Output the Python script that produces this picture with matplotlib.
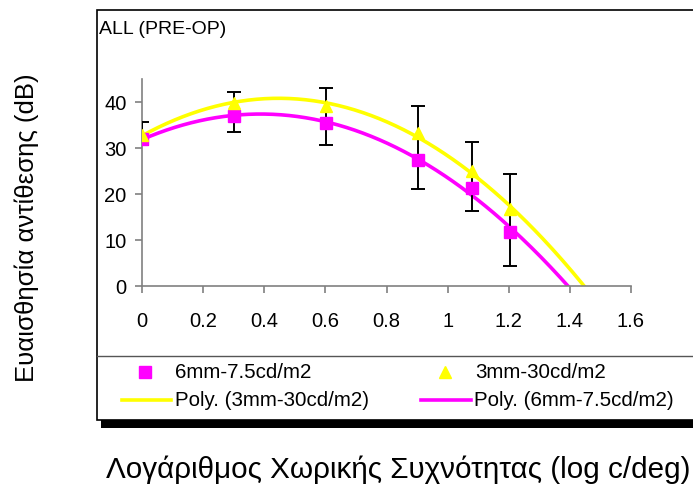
import numpy as np
import matplotlib
matplotlib.use("Agg")
import matplotlib.pyplot as plt
from matplotlib.patches import Rectangle
from matplotlib.lines import Line2D

plt.rcParams['font.family'] = ['Liberation Sans', 'DejaVu Sans']

# data
log_freq = [0.0, 0.301, 0.602, 0.903, 1.079, 1.204]
sens_6mm = [32.0, 36.9, 35.5, 27.3, 21.2, 11.8]
sens_3mm = [32.9, 39.7, 39.1, 33.3, 24.9, 16.7]
err_low = [30.6, 33.5, 30.6, 21.1, 16.4, 4.4]
err_high = [35.6, 42.2, 43.0, 39.2, 31.4, 24.4]
x_ticks = [0, 0.2, 0.4, 0.6, 0.8, 1, 1.2, 1.4, 1.6]
x_tick_labels = ['0', '0.2', '0.4', '0.6', '0.8', '1', '1.2', '1.4', '1.6']
y_ticks = [0, 10, 20, 30, 40]

MAGENTA = '#FF00FF'
YELLOW = '#FFFF00'

W, H = 693, 486
fig = plt.figure(figsize=(W / 100, H / 100), dpi=100)


def fx(px):
    return px / W


def fy(py):
    return 1 - py / H


# chart frame with shadow (behind the axes)
fig.add_artist(Rectangle((fx(101), fy(428)), fx(700) - fx(101), fy(420) - fy(428),
                         transform=fig.transFigure, facecolor='black', edgecolor='none', zorder=-3))
fig.add_artist(Rectangle((fx(97), fy(420)), fx(720) - fx(97), fy(10) - fy(420),
                         transform=fig.transFigure, facecolor='white', edgecolor='black',
                         lw=1.2, zorder=-2))
fig.add_artist(Line2D([fx(97), fx(700)], [fy(355.5), fy(355.5)], transform=fig.transFigure,
                      color='#555555', lw=1, zorder=-1))

ax = fig.add_axes([fx(142), fy(286), fx(631) - fx(142), fy(79) - fy(286)])
ax.set_facecolor('none')
ax.set_zorder(2)

# polynomial trendlines (Excel default order 2)
xx = np.linspace(0, 1.6, 300)
p3 = np.polyfit(log_freq, sens_3mm, 2)
p6 = np.polyfit(log_freq, sens_6mm, 2)
ax.plot(xx, np.polyval(p3, xx), color=YELLOW, lw=2.6, zorder=2)
ax.plot(xx, np.polyval(p6, xx), color=MAGENTA, lw=2.6, zorder=2)

mag = np.array(sens_6mm)
ax.errorbar(log_freq, mag, yerr=[mag - np.array(err_low), np.array(err_high) - mag],
            fmt='none', ecolor='black', elinewidth=1.4, capsize=5, capthick=1.4, zorder=3)
ax.plot(log_freq, sens_6mm, 's', color=MAGENTA, ms=8, ls='none', zorder=4)
ax.plot(log_freq, sens_3mm, '^', color=YELLOW, ms=9, ls='none', zorder=4)

ax.set_xlim(0, 1.6)
ax.set_ylim(0, 45)
ax.set_xticks(x_ticks)
ax.set_xticklabels(x_tick_labels)
ax.set_yticks(y_ticks)
for s in ['top', 'right']:
    ax.spines[s].set_visible(False)
for s in ['left', 'bottom']:
    ax.spines[s].set_color('#808080')
    ax.spines[s].set_linewidth(1.2)
ax.tick_params(direction='out', length=5, color='#808080', width=1.2, labelsize=14.5)
ax.tick_params(axis='y', pad=6)
ax.tick_params(axis='x', pad=14)

fig.text(fx(99), fy(29), 'ALL (PRE-OP)', fontsize=14, va='center', ha='left')

# legend drawn in figure pixels
leg_font = 14.8
rows = [372, 400]
fig.add_artist(Line2D([fx(145)], [fy(rows[0])], transform=fig.transFigure, marker='s',
                      color=MAGENTA, ms=8, ls='none'))
fig.text(fx(175), fy(rows[0]), '6mm-7.5cd/m2', fontsize=leg_font, va='center')
fig.add_artist(Line2D([fx(445)], [fy(rows[0])], transform=fig.transFigure, marker='^',
                      color=YELLOW, ms=9, ls='none'))
fig.text(fx(475), fy(rows[0]), '3mm-30cd/m2', fontsize=leg_font, va='center')
fig.add_artist(Line2D([fx(122), fx(171)], [fy(rows[1])] * 2, transform=fig.transFigure,
                      color=YELLOW, lw=2.6))
fig.text(fx(175), fy(rows[1]), 'Poly. (3mm-30cd/m2)', fontsize=leg_font, va='center')
fig.add_artist(Line2D([fx(421), fx(471)], [fy(rows[1])] * 2, transform=fig.transFigure,
                      color=MAGENTA, lw=2.6))
fig.text(fx(474), fy(rows[1]), 'Poly. (6mm-7.5cd/m2)', fontsize=leg_font, va='center')

fig.text(fx(27), fy(228), 'Ευαισθησία αντίθεσης (dB)', rotation=90, fontsize=18.5,
         ha='center', va='center')
fig.text(fx(398), fy(470), 'Λογάριθμος Χωρικής Συχνότητας (log c/deg)', fontsize=21.3,
         ha='center', va='center')

fig.savefig('out.png', dpi=100)
